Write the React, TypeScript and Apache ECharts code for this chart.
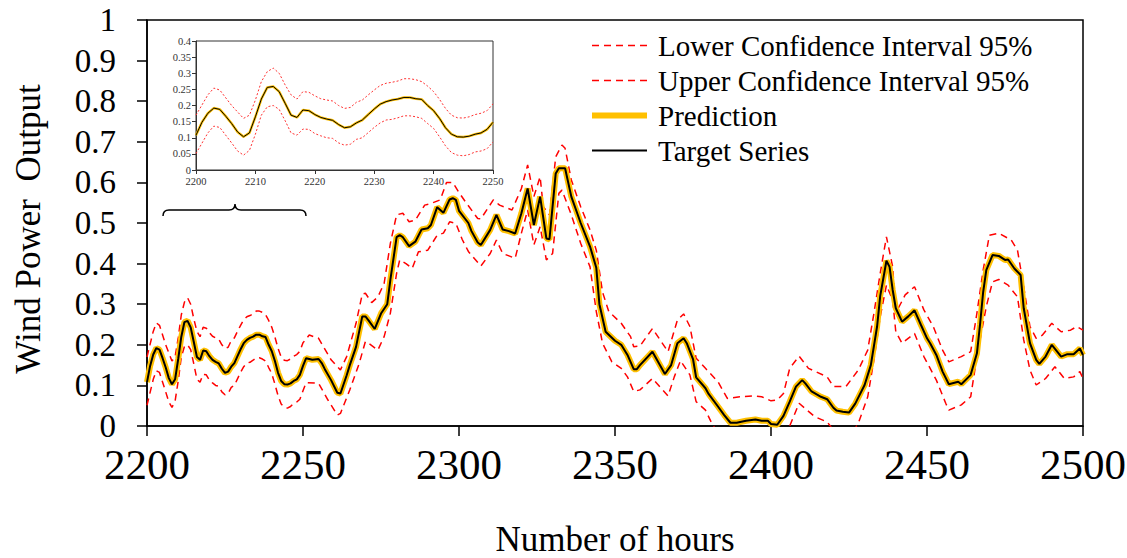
import React, { useEffect, useRef } from "react";
import * as echarts from "echarts";

// ---------- data ----------
const targetHours = [
  2200, 2201, 2202, 2203, 2204, 2205, 2206, 2207, 2208, 2209, 2210, 2211, 2212, 2213, 2214, 2215, 2216, 2217, 2218, 2219,
  2220, 2221, 2222, 2223, 2224, 2225, 2226, 2227, 2228, 2229, 2230, 2231, 2232, 2233, 2234, 2235, 2236, 2237, 2238, 2239,
  2240, 2241, 2242, 2243, 2244, 2245, 2246, 2247, 2248, 2249, 2250,
  2251, 2253, 2255, 2256, 2257, 2259, 2261, 2262, 2264, 2265, 2267, 2269, 2270, 2271, 2273, 2275, 2277, 2278, 2280, 2281,
  2282, 2284, 2286, 2288, 2290, 2291, 2293, 2295, 2297, 2298, 2299, 2300, 2303, 2304, 2306, 2307, 2310, 2312, 2314, 2316,
  2318, 2320, 2322, 2324, 2326, 2328, 2329, 2331, 2332, 2334, 2336, 2339, 2342, 2344, 2345, 2347, 2350, 2352, 2354, 2356,
  2357, 2358, 2362, 2366, 2368, 2370, 2372, 2373, 2375, 2376, 2379, 2380, 2383, 2385, 2387, 2389, 2392, 2395, 2397, 2399,
  2400, 2402, 2404, 2406, 2408, 2410, 2411, 2413, 2416, 2418, 2420, 2421, 2423, 2425, 2427, 2430, 2432, 2434, 2435, 2437,
  2438, 2439, 2440, 2442, 2444, 2446, 2448, 2450, 2451, 2453, 2455, 2457, 2460, 2461, 2464, 2466, 2467, 2468, 2469, 2471,
  2473, 2475, 2476, 2478, 2480, 2481, 2483, 2485, 2486, 2488, 2490, 2493, 2495, 2497, 2499, 2500,
];
const targetValues = [
  0.108, 0.148, 0.176, 0.192, 0.188, 0.167, 0.144, 0.118, 0.103, 0.115, 0.165, 0.22, 0.256, 0.259, 0.243, 0.207, 0.17, 0.163, 0.186, 0.184,
  0.172, 0.163, 0.158, 0.154, 0.141, 0.131, 0.134, 0.146, 0.155, 0.172, 0.189, 0.204, 0.212, 0.217, 0.22, 0.225, 0.225, 0.221, 0.219, 0.2,
  0.184, 0.16, 0.131, 0.111, 0.103, 0.102, 0.105, 0.111, 0.115, 0.126, 0.148,
  0.167, 0.163, 0.165, 0.155, 0.14, 0.113, 0.082, 0.08, 0.125, 0.15, 0.195, 0.27, 0.27, 0.26, 0.239, 0.277, 0.3, 0.36, 0.465, 0.47,
  0.465, 0.443, 0.454, 0.484, 0.487, 0.495, 0.539, 0.525, 0.558, 0.561, 0.557, 0.53, 0.5, 0.48, 0.452, 0.446, 0.483, 0.52, 0.484, 0.48,
  0.474, 0.524, 0.585, 0.495, 0.565, 0.462, 0.46, 0.622, 0.635, 0.635, 0.565, 0.5, 0.442, 0.39, 0.3, 0.232, 0.21, 0.2, 0.175, 0.14,
  0.14, 0.15, 0.183, 0.128, 0.15, 0.204, 0.216, 0.204, 0.165, 0.12, 0.093, 0.079, 0.048, 0.027, 0.008, 0.008, 0.013, 0.016, 0.013, 0.013,
  0.005, 0.003, 0.025, 0.06, 0.097, 0.113, 0.105, 0.085, 0.072, 0.066, 0.045, 0.038, 0.035, 0.033, 0.055, 0.101, 0.15, 0.245, 0.32, 0.407,
  0.392, 0.335, 0.29, 0.257, 0.27, 0.285, 0.25, 0.216, 0.204, 0.175, 0.134, 0.103, 0.109, 0.103, 0.126, 0.179, 0.25, 0.33, 0.384, 0.421,
  0.419, 0.409, 0.41, 0.388, 0.372, 0.29, 0.204, 0.163, 0.153, 0.171, 0.2, 0.171, 0.177, 0.177, 0.191, 0.175,
];
// the prediction follows the target almost exactly
const predictionValues = targetValues.slice();

const upperHours = [
  2200, 2202, 2203, 2204, 2206, 2208, 2209, 2210, 2211, 2212, 2213, 2214, 2215, 2216, 2217, 2218, 2219, 2220, 2221, 2222,
  2223, 2224, 2225, 2226, 2227, 2228, 2229, 2230, 2231, 2232, 2233, 2234, 2235, 2236, 2237, 2238, 2239, 2240, 2241, 2242,
  2243, 2244, 2245, 2246, 2247, 2248, 2249, 2250,
  2252, 2255, 2259, 2262, 2264, 2267, 2269, 2270, 2272, 2274, 2276, 2278, 2280, 2282, 2284, 2286, 2289, 2291, 2294, 2296,
  2298, 2300, 2302, 2306, 2307, 2311, 2313, 2317, 2320, 2322, 2324, 2326, 2327, 2329, 2331, 2333, 2334, 2336, 2339, 2342,
  2344, 2346, 2348, 2352, 2355, 2356, 2358, 2362, 2367, 2370, 2372, 2374, 2376, 2379, 2383, 2386, 2390, 2394, 2397, 2400,
  2402, 2404, 2406, 2409, 2412, 2418, 2420, 2424, 2428, 2431, 2433, 2435, 2437, 2439, 2440, 2443, 2446, 2449, 2452, 2455,
  2457, 2461, 2464, 2466, 2468, 2470, 2473, 2477, 2479, 2481, 2483, 2485, 2487, 2490, 2493, 2496, 2498, 2500,
];
const upperValues = [
  0.17, 0.233, 0.254, 0.248, 0.2, 0.16, 0.17, 0.217, 0.274, 0.305, 0.316, 0.3, 0.264, 0.233, 0.22, 0.243, 0.241, 0.23, 0.221, 0.217,
  0.214, 0.2, 0.191, 0.194, 0.21, 0.217, 0.233, 0.248, 0.262, 0.269, 0.272, 0.276, 0.283, 0.283, 0.28, 0.274, 0.26, 0.243, 0.219, 0.191,
  0.17, 0.162, 0.161, 0.165, 0.172, 0.176, 0.184, 0.205,
  0.224, 0.216, 0.163, 0.138, 0.171, 0.253, 0.325, 0.327, 0.304, 0.318, 0.351, 0.45, 0.52, 0.524, 0.503, 0.507, 0.544, 0.548, 0.557, 0.6,
  0.6, 0.575, 0.553, 0.511, 0.51, 0.557, 0.544, 0.532, 0.585, 0.643, 0.565, 0.614, 0.54, 0.52, 0.663, 0.692, 0.684, 0.606, 0.54, 0.483,
  0.433, 0.33, 0.282, 0.253, 0.22, 0.195, 0.197, 0.24, 0.183, 0.261, 0.276, 0.245, 0.167, 0.142, 0.109, 0.068, 0.072, 0.074, 0.072, 0.062,
  0.064, 0.08, 0.142, 0.172, 0.142, 0.121, 0.097, 0.097, 0.138, 0.187, 0.278, 0.376, 0.466, 0.392, 0.278, 0.323, 0.343, 0.286, 0.245, 0.187,
  0.158, 0.171, 0.183, 0.278, 0.384, 0.47, 0.475, 0.458, 0.433, 0.343, 0.245, 0.216, 0.224, 0.253, 0.232, 0.236, 0.245, 0.236,
];

const lowerHours = [
  2200, 2202, 2203, 2204, 2206, 2207, 2208, 2209, 2210, 2211, 2212, 2213, 2214, 2215, 2216, 2217, 2218, 2219, 2220, 2221,
  2222, 2223, 2224, 2225, 2226, 2227, 2228, 2229, 2230, 2231, 2232, 2233, 2234, 2235, 2236, 2237, 2238, 2239, 2240, 2241,
  2242, 2243, 2244, 2245, 2246, 2247, 2248, 2249, 2250,
  2251, 2255, 2258, 2261, 2262, 2265, 2268, 2270, 2271, 2274, 2276, 2278, 2280, 2281, 2283, 2285, 2287, 2290, 2293, 2295,
  2297, 2299, 2301, 2303, 2307, 2310, 2312, 2314, 2318, 2320, 2322, 2324, 2326, 2328, 2330, 2332, 2333, 2336, 2339, 2342,
  2344, 2346, 2349, 2352, 2354, 2356, 2358, 2362, 2367, 2369, 2371, 2374, 2376, 2379, 2381, 2384, 2390, 2396, 2402, 2406,
  2409, 2414, 2418, 2422, 2425, 2428, 2431, 2433, 2435, 2437, 2439, 2440, 2442, 2446, 2449, 2453, 2456, 2457, 2461, 2464,
  2466, 2469, 2471, 2473, 2476, 2479, 2481, 2483, 2485, 2488, 2491, 2494, 2497, 2499, 2500,
];
const lowerValues = [
  0.051, 0.115, 0.136, 0.132, 0.084, 0.059, 0.046, 0.061, 0.111, 0.17, 0.196, 0.2, 0.188, 0.153, 0.115, 0.108, 0.127, 0.126, 0.113, 0.106,
  0.1, 0.098, 0.084, 0.077, 0.08, 0.095, 0.1, 0.116, 0.132, 0.146, 0.155, 0.157, 0.162, 0.168, 0.168, 0.165, 0.16, 0.144, 0.129, 0.103,
  0.075, 0.054, 0.046, 0.044, 0.048, 0.056, 0.059, 0.066, 0.087,
  0.107, 0.105, 0.064, 0.027, 0.031, 0.089, 0.154, 0.208, 0.204, 0.187, 0.22, 0.278, 0.376, 0.409, 0.4, 0.388, 0.429, 0.433, 0.47, 0.475,
  0.503, 0.499, 0.46, 0.43, 0.394, 0.425, 0.458, 0.425, 0.413, 0.475, 0.532, 0.446, 0.491, 0.409, 0.425, 0.573, 0.581, 0.52, 0.45, 0.392,
  0.282, 0.204, 0.158, 0.142, 0.121, 0.085, 0.089, 0.117, 0.074, 0.121, 0.161, 0.126, 0.06, 0.039, 0.007, -0.03, -0.05, -0.05, -0.05, 0.0,
  0.056, 0.023, 0.01, -0.03, -0.03, 0.007, 0.072, 0.163, 0.269, 0.347, 0.31, 0.232, 0.204, 0.228, 0.171, 0.113, 0.056, 0.039, 0.052, 0.072,
  0.171, 0.294, 0.355, 0.361, 0.347, 0.318, 0.212, 0.138, 0.101, 0.117, 0.146, 0.117, 0.121, 0.134, 0.117,
];

const xTicks = [2200, 2250, 2300, 2350, 2400, 2450, 2500];
const insetRange = [2200, 2250];

const LOWER = "Lower Confidence Interval 95%";
const UPPER = "Upper Confidence Interval 95%";
const PRED = "Prediction";
const TARGET = "Target Series";
const Y_NAME = "Wind Power  Output";

const pairs = (hs: number[], vs: number[]) => hs.map((h, i) => [h, vs[i]]);
const insetPairs = (hs: number[], vs: number[]) =>
  pairs(hs, vs).filter((p) => p[0] >= insetRange[0] && p[0] <= insetRange[1]);

const FONT = "'Liberation Serif', 'Times New Roman', serif";
const braceD =
  "M163,216 Q163,210 169,210 L229,210 Q235,210 235,204 Q235,210 241,210 L300,210 Q306,210 306,216";
echarts.graphic.registerShape("brace", echarts.graphic.extendPath(braceD, {}) as any);

export default function App() {
  const ref = useRef<HTMLDivElement>(null);
  useEffect(() => {
    document.body.style.margin = "0";
    if (!ref.current) return;
    const chart = echarts.init(ref.current, undefined, { renderer: "svg" });
    const red = "#FF0000";
    const yellow = "#FFC000";
    const mainAxisLine = { show: true, lineStyle: { color: "#000", width: 1.5 } };
    const insetAxisLine = { show: true, lineStyle: { color: "#333", width: 1 } };
    const plain = (v: number) => String(v);
    chart.setOption({
      animation: false,
      backgroundColor: "#fff",
      textStyle: { fontFamily: FONT },
      legend: {
        orient: "vertical",
        left: 584,
        top: 26,
        itemWidth: 55,
        itemHeight: 14,
        itemGap: 6,
        itemStyle: { opacity: 0 },
        textStyle: { fontFamily: FONT, fontSize: 29, color: "#000", padding: [0, 0, 0, 6] },
        data: [
          { name: LOWER, lineStyle: { color: red, width: 1.5, type: [7, 5] } },
          { name: UPPER, lineStyle: { color: red, width: 1.5, type: [7, 5] } },
          { name: PRED, lineStyle: { color: yellow, width: 6 } },
          { name: TARGET, lineStyle: { color: "#000", width: 2 } },
        ].map((d) => ({ name: d.name, lineStyle: d.lineStyle, itemStyle: { opacity: 0 } })),
      },
      grid: [
        {
          left: 147, right: 44, top: 20, bottom: 132, show: true, borderColor: "#000", borderWidth: 1.5,
          backgroundColor: "transparent", containLabel: false, outerBoundsMode: "none",
        },
        {
          left: 196, top: 41, width: 297, height: 129, show: true, borderColor: "#333", borderWidth: 1,
          backgroundColor: "#fff", containLabel: false, outerBoundsMode: "none",
        },
      ],
      xAxis: [
        {
          type: "value",
          gridIndex: 0,
          min: xTicks[0],
          max: xTicks[xTicks.length - 1],
          interval: 50,
          name: "Number of hours",
          nameLocation: "middle",
          nameGap: 96,
          nameTextStyle: { fontFamily: FONT, fontSize: 35, color: "#000", lineHeight: 34 },
          axisLine: mainAxisLine,
          axisTick: { show: true, inside: false, length: 10, lineStyle: { color: "#000", width: 1.5 } },
          axisLabel: { fontFamily: FONT, fontSize: 43, color: "#000", margin: 18, lineHeight: 40, formatter: plain },
          splitLine: { show: false },
        },
        {
          type: "value",
          gridIndex: 1,
          min: insetRange[0],
          max: insetRange[1],
          interval: 10,
          axisLine: insetAxisLine,
          axisTick: { show: true, inside: false, length: 4, lineStyle: { color: "#333", width: 1 } },
          axisLabel: { fontFamily: FONT, fontSize: 10.5, color: "#333", margin: 6, formatter: plain },
          splitLine: { show: false },
        },
      ],
      yAxis: [
        {
          type: "value",
          gridIndex: 0,
          min: 0,
          max: 1,
          interval: 0.1,
          axisLine: mainAxisLine,
          axisTick: { show: true, inside: false, length: 10, lineStyle: { color: "#000", width: 1.5 } },
          axisLabel: { fontFamily: FONT, fontSize: 33, color: "#000", margin: 31, lineHeight: 26 },
          splitLine: { show: false },
        },
        {
          type: "value",
          gridIndex: 1,
          min: 0,
          max: 0.4,
          interval: 0.05,
          axisLine: insetAxisLine,
          axisTick: { show: true, inside: false, length: 4, lineStyle: { color: "#333", width: 1 } },
          axisLabel: { fontFamily: FONT, fontSize: 10.5, color: "#333", margin: 5 },
          splitLine: { show: false },
        },
      ],
      series: [
        {
          name: LOWER, type: "line", xAxisIndex: 0, yAxisIndex: 0, data: pairs(lowerHours, lowerValues),
          showSymbol: false, symbol: "none", lineStyle: { color: red, width: 1.5, type: [7, 5] }, itemStyle: { color: red }, z: 2,
        },
        {
          name: UPPER, type: "line", xAxisIndex: 0, yAxisIndex: 0, data: pairs(upperHours, upperValues),
          showSymbol: false, symbol: "none", lineStyle: { color: red, width: 1.5, type: [7, 5] }, itemStyle: { color: red }, z: 2,
        },
        {
          name: PRED, type: "line", xAxisIndex: 0, yAxisIndex: 0, data: pairs(targetHours, predictionValues),
          showSymbol: false, symbol: "none", lineStyle: { color: yellow, width: 6 }, itemStyle: { color: yellow }, z: 3,
        },
        {
          name: TARGET, type: "line", xAxisIndex: 0, yAxisIndex: 0, data: pairs(targetHours, targetValues),
          showSymbol: false, symbol: "none", lineStyle: { color: "#000", width: 2 }, itemStyle: { color: "#000" }, z: 4,
        },
        {
          name: "inset-lower", type: "line", xAxisIndex: 1, yAxisIndex: 1, data: insetPairs(lowerHours, lowerValues),
          showSymbol: false, symbol: "none", lineStyle: { color: "#ff3030", width: 1, type: [2, 2] }, z: 5,
        },
        {
          name: "inset-upper", type: "line", xAxisIndex: 1, yAxisIndex: 1, data: insetPairs(upperHours, upperValues),
          showSymbol: false, symbol: "none", lineStyle: { color: "#ff3030", width: 1, type: [2, 2] }, z: 5,
        },
        {
          name: "inset-pred", type: "line", xAxisIndex: 1, yAxisIndex: 1, data: insetPairs(targetHours, predictionValues),
          showSymbol: false, symbol: "none", lineStyle: { color: yellow, width: 2.5 }, z: 6,
        },
        {
          name: "inset-target", type: "line", xAxisIndex: 1, yAxisIndex: 1, data: insetPairs(targetHours, targetValues),
          showSymbol: false, symbol: "none", lineStyle: { color: "#000", width: 1 }, z: 7,
        },
      ],
      graphic: [
        {
          type: "brace",
          x: 0,
          y: 0,
          style: { fill: "none", stroke: "#000", lineWidth: 1.5 },
          z: 10,
        } as any,
        {
          type: "text",
          x: 28,
          y: 229,
          rotation: Math.PI / 2,
          style: {
            text: Y_NAME,
            fontFamily: FONT,
            fontSize: 35,
            fill: "#000",
            textAlign: "center",
            textVerticalAlign: "middle",
          },
          z: 10,
        } as any,
      ],
    });
    return () => chart.dispose();
  }, []);
  return <div ref={ref} style={{ width: 1127, height: 558 }} />;
}
